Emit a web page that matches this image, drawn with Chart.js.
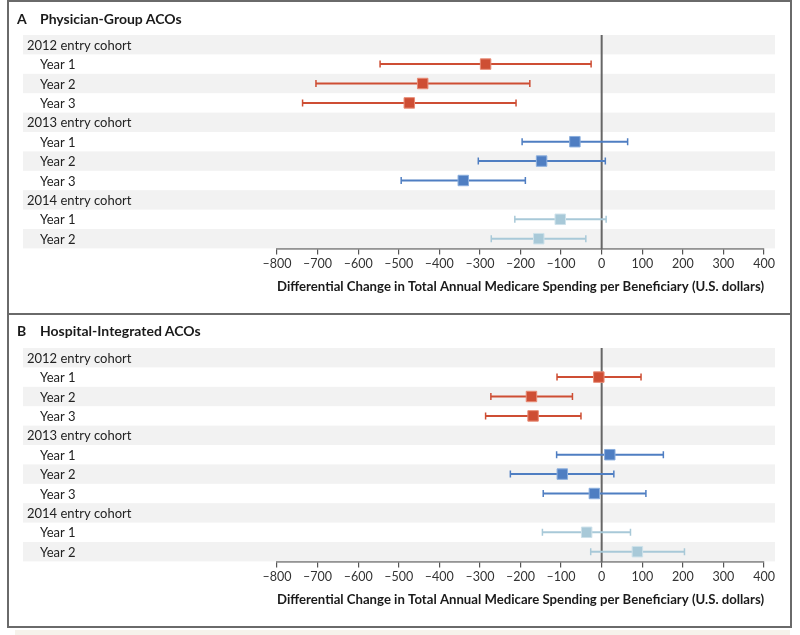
<!DOCTYPE html>
<html>
<head>
<meta charset="utf-8">
<script src="https://cdn.jsdelivr.net/npm/chart.js@4.4.1/dist/chart.umd.min.js"></script>
<style>
  body { margin: 0; background: #fff; width: 800px; height: 635px; position: relative; overflow: hidden; font-family: Lato, "Noto Sans", sans-serif; }
  .frame { position: absolute; left: 7px; top: 0; width: 781px; height: 624px; border: 2px solid #6a6a6a; }
  .divider { position: absolute; left: 7px; top: 313px; width: 785px; height: 2px; background: #6a6a6a; }
  .strip { position: absolute; left: 15px; top: 630px; width: 775px; height: 5px; background: #f6f2eb; }
  canvas { position: absolute; left: 0; }
  .ptitle { position: absolute; font-weight: bold; font-size: 14px; color: #1a1a1a; line-height: 16px; }
</style>
</head>
<body>
<div class="strip"></div>
<canvas id="chartA" width="800" height="314" style="top:0"></canvas>
<canvas id="chartB" width="800" height="314" style="top:313px"></canvas>
<div class="frame"></div>
<div class="divider"></div>
<div class="ptitle" style="left:17px;top:11px">A</div>
<div class="ptitle" style="left:40px;top:11px">Physician-Group ACOs</div>
<div class="ptitle" style="left:17px;top:323px">B</div>
<div class="ptitle" style="left:40px;top:323px">Hospital-Integrated ACOs</div>
<script>
// rows, top to bottom
var rowLabels = ['2012 entry cohort', 'Year 1', 'Year 2', 'Year 3',
                 '2013 entry cohort', 'Year 1', 'Year 2', 'Year 3',
                 '2014 entry cohort', 'Year 1', 'Year 2'];
var cohortRows = [0, 4, 8];
var rows2012 = [1, 2, 3];
var rows2013 = [5, 6, 7];
var rows2014 = [9, 10];

// Panel A: physician-group ACOs (estimate, lower and upper 95% CI)
var physEst2012 = [-286, -441, -474];
var physLo2012  = [-546, -704, -737];
var physHi2012  = [-26, -177, -211];
var physEst2013 = [-66, -148, -341];
var physLo2013  = [-196, -304, -494];
var physHi2013  = [64, 9, -188];
var physEst2014 = [-102, -155];
var physLo2014  = [-214, -272];
var physHi2014  = [11, -39];

// Panel B: hospital-integrated ACOs
var hospEst2012 = [-7, -173, -169];
var hospLo2012  = [-110, -273, -286];
var hospHi2012  = [97, -72, -51];
var hospEst2013 = [20, -97, -18];
var hospLo2013  = [-111, -225, -144];
var hospHi2013  = [152, 30, 109];
var hospEst2014 = [-37, 88];
var hospLo2014  = [-146, -27];
var hospHi2014  = [71, 204];

var xTicks = [-800, -700, -600, -500, -400, -300, -200, -100, 0, 100, 200, 300, 400];

var colors = {
  red: 'rgb(206, 78, 52)',
  redEdge: 'rgb(232, 140, 118)',
  blue: 'rgb(79, 126, 194)',
  blueEdge: 'rgb(140, 175, 222)',
  light: 'rgb(168, 201, 216)',
  lightEdge: 'rgb(205, 225, 234)'
};

var axisTitle = 'Differential Change in Total Annual Medicare Spending per Beneficiary (U.S. dollars)';

function series(rows, est, lo, hi, color, edge) {
  return {
    type: 'scatter',
    data: rows.map(function (r, i) { return { x: est[i], y: r }; }),
    lo: lo,
    hi: hi,
    barColor: color,
    pointStyle: 'rect',
    pointRadius: 7.4,
    pointHoverRadius: 7.4,
    backgroundColor: color,
    borderColor: edge,
    borderWidth: 1
  };
}

// bands, labels, zero line and CI whiskers, drawn under the squares
var forestPlugin = {
  id: 'forest',
  beforeDatasetsDraw: function (chart) {
    var ctx = chart.ctx;
    var xs = chart.scales.x, ys = chart.scales.y;
    var pitch = Math.abs(ys.getPixelForValue(1) - ys.getPixelForValue(0));
    ctx.save();
    rowLabels.forEach(function (label, i) {
      var y = ys.getPixelForValue(i);
      if (i % 2 === 0) {
        ctx.fillStyle = '#f2f2f2';
        ctx.fillRect(23, y - pitch / 2, 752, pitch);
      }
    });
    ctx.fillStyle = '#222';
    ctx.font = '13px Lato, "Noto Sans", sans-serif';
    ctx.textAlign = 'left';
    ctx.textBaseline = 'middle';
    rowLabels.forEach(function (label, i) {
      var x = cohortRows.indexOf(i) >= 0 ? 27 : 40;
      ctx.fillText(label, x, ys.getPixelForValue(i) + 1);
    });
    // reference line at zero
    var x0 = xs.getPixelForValue(0);
    ctx.strokeStyle = '#666';
    ctx.lineWidth = 2;
    ctx.beginPath();
    ctx.moveTo(x0, chart.chartArea.top);
    ctx.lineTo(x0, chart.chartArea.bottom + 1);
    ctx.stroke();
    // whiskers
    chart.data.datasets.forEach(function (ds) {
      ctx.strokeStyle = ds.barColor;
      ds.data.forEach(function (p, i) {
        var y = ys.getPixelForValue(p.y);
        var a = xs.getPixelForValue(ds.lo[i]);
        var b = xs.getPixelForValue(ds.hi[i]);
        ctx.lineWidth = 2;
        ctx.beginPath();
        ctx.moveTo(a, y);
        ctx.lineTo(b, y);
        ctx.stroke();
        ctx.lineWidth = 1.5;
        ctx.beginPath();
        ctx.moveTo(a, y - 3.5);
        ctx.lineTo(a, y + 3.5);
        ctx.moveTo(b, y - 3.5);
        ctx.lineTo(b, y + 3.5);
        ctx.stroke();
      });
    });
    ctx.restore();
  }
};

function makeChart(id, datasets) {
  var ctx = document.getElementById(id).getContext('2d');
  return new Chart(ctx, {
    type: 'scatter',
    data: { datasets: datasets },
    options: {
      responsive: false,
      animation: false,
      devicePixelRatio: 1,
      layout: { padding: { left: 277, right: 36, top: 35, bottom: 0 } },
      plugins: { legend: { display: false }, tooltip: { enabled: false } },
      scales: {
        x: {
          type: 'linear',
          min: -800,
          max: 400,
          afterBuildTicks: function (scale) {
            scale.ticks = xTicks.map(function (v) { return { value: v }; });
          },
          afterFit: function (scale) { scale.height = 65.6; },
          grid: { display: true, drawOnChartArea: false, drawTicks: true, tickLength: 6, color: '#555', lineWidth: 1.2 },
          border: { display: true, color: '#555', width: 1.5 },
          ticks: {
            padding: 2,
            color: '#333',
            font: { family: 'Lato, "Noto Sans", sans-serif', size: 12.5 },
            callback: function (v) { return v < 0 ? '\u2013' + Math.abs(v) : String(v); }
          },
          title: {
            display: true,
            text: axisTitle,
            color: '#1a1a1a',
            font: { family: 'Lato, "Noto Sans", sans-serif', size: 13.5, weight: 'bold' },
            padding: { top: 4, bottom: 19 }
          }
        },
        y: {
          type: 'linear',
          min: -0.5,
          max: 10.5,
          reverse: true,
          display: false
        }
      }
    },
    plugins: [forestPlugin]
  });
}

makeChart('chartA', [
  series(rows2012, physEst2012, physLo2012, physHi2012, colors.red, colors.redEdge),
  series(rows2013, physEst2013, physLo2013, physHi2013, colors.blue, colors.blueEdge),
  series(rows2014, physEst2014, physLo2014, physHi2014, colors.light, colors.lightEdge)
]);

makeChart('chartB', [
  series(rows2012, hospEst2012, hospLo2012, hospHi2012, colors.red, colors.redEdge),
  series(rows2013, hospEst2013, hospLo2013, hospHi2013, colors.blue, colors.blueEdge),
  series(rows2014, hospEst2014, hospLo2014, hospHi2014, colors.light, colors.lightEdge)
]);
</script>
</body>
</html>
